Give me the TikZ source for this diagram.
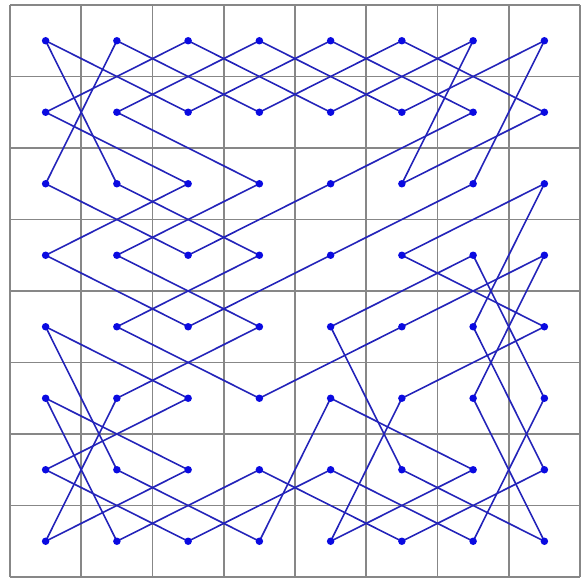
\documentclass[tikz,border=0pt]{standalone}
\definecolor{gridgray}{RGB}{135,135,135}
\definecolor{tourblue}{RGB}{35,35,185}
\definecolor{dotblue}{RGB}{10,10,225}
\tikzset{
  gridline/.style={draw=gridgray, line width=1.6pt},
  tourline/.style={draw=tourblue, line width=1.6pt},
  dotnode/.style={circle, fill=dotblue, inner sep=0pt, minimum size=7.5pt}
}
\begin{document}
\begin{tikzpicture}[x=1pt,y=-1pt]
\useasboundingbox (0,0) rectangle (583,580);
% grid
\foreach \i in {0,...,8}{
  \draw[gridline] ({10+71.25*\i},5) -- ({10+71.25*\i},577);
  \draw[gridline] (10,{5+71.5*\i}) -- (580,{5+71.5*\i});
}
% square centres
\foreach \c in {0,...,7}{
  \foreach \r in {0,...,7}{
    \coordinate (p\c\r) at ({10+71.25*(\c+0.5)},{5+71.5*(\r+0.5)});
  }
}
% knight's tour edges
\foreach \a/\b/\c/\d in {
  0/0/2/1, 0/0/1/2, 1/0/0/2, 1/0/3/1, 2/0/0/1, 2/0/4/1, 3/0/1/1, 3/0/5/1,
  4/0/2/1, 4/0/6/1, 5/0/3/1, 5/0/7/1, 6/0/4/1, 6/0/5/2, 7/0/5/1, 7/0/6/2,
  0/1/2/2, 1/1/3/2, 6/1/4/2, 7/1/5/2,
  0/2/2/3, 1/2/3/3, 2/2/0/3, 3/2/1/3, 4/2/2/3, 6/2/4/3, 7/2/5/3, 7/2/6/4,
  0/3/2/4, 1/3/3/4, 3/3/1/4, 4/3/2/4, 5/3/7/4, 6/3/4/4, 6/3/7/5, 7/3/5/4, 7/3/6/5,
  0/4/2/5, 0/4/1/6, 1/4/3/5, 3/4/1/5, 4/4/5/6, 5/4/3/5, 6/4/7/6, 7/4/5/5,
  0/5/2/6, 0/5/1/7, 1/5/0/7, 2/5/0/6, 4/5/3/7, 4/5/6/6, 5/5/4/7, 6/5/7/7, 7/5/6/7,
  0/6/2/7, 1/6/3/7, 2/6/0/7, 3/6/1/7, 3/6/5/7, 2/7/4/6, 4/6/6/7, 5/6/7/7, 6/6/4/7, 7/6/5/7}{
  \draw[tourline] (p\a\b) -- (p\c\d);
}
% dots
\foreach \c in {0,...,7}{
  \foreach \r in {0,...,7}{
    \node[dotnode] (d\c\r) at (p\c\r) {};
  }
}
\end{tikzpicture}
\end{document}
